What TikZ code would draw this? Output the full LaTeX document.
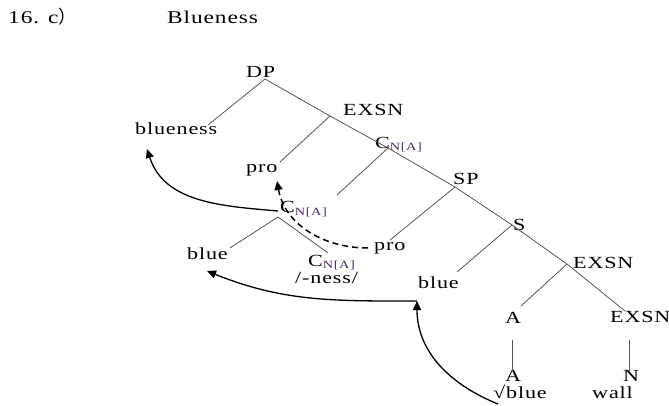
\documentclass[tikz,border=0pt]{standalone}
\usepackage{fontspec}
\setmainfont{Liberation Serif}
\newfontfamily\widefont[FakeStretch=1.3,LetterSpace=5]{Liberation Serif}
\newfontfamily\cjkfont{Noto Sans CJK SC}
\usetikzlibrary{arrows.meta}
\definecolor{treeline}{RGB}{85,85,85}
\definecolor{subcol}{RGB}{70,40,100}
\newcommand{\CNA}{C\raisebox{-2pt}{\color{subcol}\fontsize{11}{11}\selectfont N[A]}}
\begin{document}
\begin{tikzpicture}[x=1pt,y=-1pt,
  lab/.style={inner sep=0pt, anchor=base west, font={\widefont\fontsize{17}{20}\selectfont}},
  ttl/.style={inner sep=0pt, anchor=base west, font={\widefont\fontsize{18}{21}\selectfont}},
  tl/.style={draw=treeline, line width=0.8pt},
  arr/.style={draw=black, line width=1.3pt, -{Triangle[length=9pt,width=8pt]}},
  darr/.style={arr, line width=1.5pt, dash pattern=on 6pt off 4pt}]
\useasboundingbox (0,0) rectangle (669,406);
% title
\node[ttl] (num) at (8,24) {16. c{\cjkfont ）}};
\node[ttl] (ttlname) at (167,24) {Blueness};
% labels
\node[lab] (DP) at (246,78) {DP};
\node[lab] (blueness) at (135,135) {blueness};
\node[lab] (EX1) at (343,116) {EXSN};
\node[lab] (pro1) at (246,173) {pro};
\node[lab] (C1) at (375,149) {\CNA};
\node[lab] (SP) at (453,185) {SP};
\node[lab] (C2) at (280,213) {\CNA};
\node[lab] (pro2) at (374,250) {pro};
\node[lab] (S) at (513,230) {S};
\node[lab] (blue2) at (418,288) {blue};
\node[lab] (blue1) at (187,259) {blue};
\node[lab] (C3) at (308,266) {\CNA};
\node[lab] (ness) at (295,283) {/-ness/};
\node[lab] (EX2) at (573,268) {EXSN};
\node[lab] (A1) at (505,323) {A};
\node[lab] (EX3) at (610,322) {EXSN};
\node[lab] (A2) at (505,381) {A};
\node[lab] (root) at (493,398) {\char"221A blue};
\node[lab] (N) at (623,381) {N};
\node[lab] (wall) at (592,398) {wall};
% junctions
\coordinate (jDP) at (265,79);
\coordinate (jEX1) at (330,116);
\coordinate (jC1) at (388,148);
\coordinate (jSP) at (455,187);
\coordinate (jS) at (512,225);
\coordinate (jEX2) at (567,264);
\coordinate (eEX3) at (625,311);
\coordinate (jC2) at (278,217);
\coordinate (eBlueness) at (208,125);
\coordinate (ePro1) at (280,162);
\coordinate (eC2) at (337,195);
\coordinate (ePro2) at (390,240);
\coordinate (eBlue2) at (457,272);
\coordinate (eA1) at (521,306);
\coordinate (eBlue1) at (230,248);
\coordinate (eC3) at (328,253);
\coordinate (vA1) at (512,340);
\coordinate (vA2) at (512,371);
\coordinate (vE1) at (629,340);
\coordinate (vE2) at (629,371);
% tree lines
\draw[tl] (jDP) -- (jEX1) -- (jC1) -- (jSP) -- (jS) -- (jEX2) -- (eEX3);
\draw[tl] (jDP) -- (eBlueness);
\draw[tl] (jEX1) -- (ePro1);
\draw[tl] (jC1) -- (eC2);
\draw[tl] (jSP) -- (ePro2);
\draw[tl] (jS) -- (eBlue2);
\draw[tl] (jEX2) -- (eA1);
\draw[tl] (jC2) -- (eBlue1);
\draw[tl] (jC2) -- (eC3);
\draw[tl] (vA1) -- (vA2);
\draw[tl] (vE1) -- (vE2);
% movement arrows
\coordinate (a1s) at (278,211);
\coordinate (a1e) at (147,149);
\coordinate (d1s) at (368,248);
\coordinate (d1e) at (277,181);
\coordinate (a3s) at (498,404);
\coordinate (a3e) at (417,301);
\coordinate (a4e) at (207,271);
\draw[arr] (a1s) to[out=175,in=-72] (a1e);
\draw[darr] (d1s) to[out=180,in=-80] (d1e);
\draw[arr] (a3s) to[out=158,in=-90] (a3e);
\draw[arr] (a3e) to[out=180,in=-22] (a4e);
\end{tikzpicture}
\end{document}
